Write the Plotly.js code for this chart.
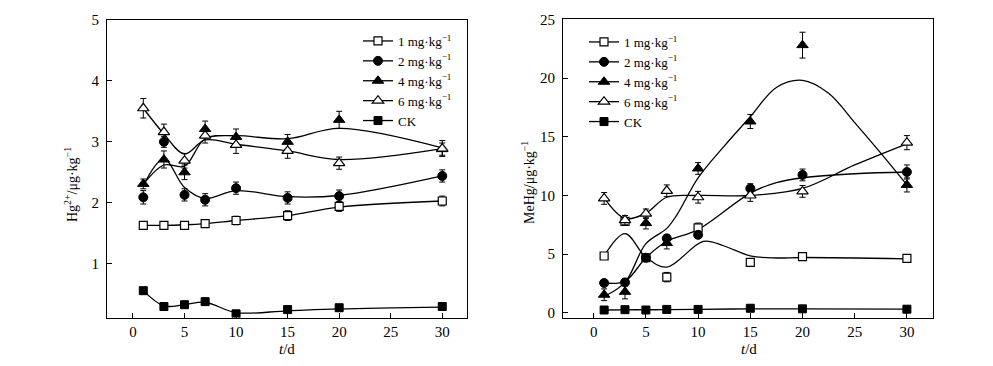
<!DOCTYPE html>
<html>
<head>
<meta charset="utf-8">
<script src="https://cdn.plot.ly/plotly-3.0.1.min.js"></script>
<style>html,body{margin:0;padding:0;background:#fff;}#chart{width:993px;height:366px;}</style>
</head>
<body>
<div id="chart"></div>
<script>
// ---- data ----
const days = [1, 3, 5, 7, 10, 15, 20, 30];
const seriesNames = ['1 mg·kg<sup>−1</sup>', '2 mg·kg<sup>−1</sup>', '4 mg·kg<sup>−1</sup>', '6 mg·kg<sup>−1</sup>', 'CK'];

// Left panel: Hg2+ (μg/kg)
const hg_1  = [1.63, 1.63, 1.63, 1.66, 1.71, 1.79, 1.94, 2.03];
const hg_2  = [2.09, 3.00, 2.13, 2.05, 2.24, 2.08, 2.11, 2.44];
const hg_4  = [2.31, 2.71, 2.50, 3.21, 3.08, 3.00, 3.36, 2.88];
const hg_6  = [3.55, 3.16, 2.69, 3.10, 2.95, 2.85, 2.65, 2.89];
const hg_ck = [0.56, 0.30, 0.33, 0.38, 0.18, 0.25, 0.28, 0.30];
const hg_err_1  = [0.06, 0.05, 0.05, 0.06, 0.07, 0.08, 0.08, 0.08];
const hg_err_2  = [0.11, 0.09, 0.10, 0.10, 0.10, 0.10, 0.10, 0.10];
const hg_err_4  = [0.08, 0.14, 0.12, 0.13, 0.13, 0.12, 0.14, 0.10];
const hg_err_6  = [0.16, 0.13, 0.12, 0.12, 0.14, 0.12, 0.10, 0.13];
const hg_err_ck = [0.02, 0.02, 0.02, 0.02, 0.02, 0.02, 0.02, 0.02];
// fitted smooth curves
const hg_fit_1  = [1.63, 1.63, 1.64, 1.66, 1.71, 1.79, 1.93, 2.03];
const hg_fit_2  = [2.28, 2.72, 2.25, 2.07, 2.20, 2.10, 2.12, 2.44];
const hg_fit_4  = [2.30, 2.62, 2.60, 3.05, 3.10, 3.05, 3.22, 2.90];
const hg_fit_6  = [3.55, 3.13, 2.80, 3.03, 2.96, 2.85, 2.71, 2.89];
const hg_fit_ck = [0.56, 0.31, 0.33, 0.37, 0.20, 0.23, 0.26, 0.29];

// Right panel: MeHg (μg/kg)
const me_1  = [4.85, 7.80, 4.70, 3.05, 7.25, 4.30, 4.80, 4.65];
const me_2  = [2.55, 2.60, 4.70, 6.35, 6.65, 10.60, 11.75, 12.00];
const me_4  = [1.55, 1.80, 7.65, 5.95, 12.30, 16.30, 22.80, 10.90];
const me_6  = [9.75, 7.90, 8.45, 10.40, 9.85, 10.00, 10.35, 14.50];
const me_ck = [0.25, 0.28, 0.25, 0.30, 0.30, 0.40, 0.35, 0.32];
const me_err_1  = [0.2, 0.3, 0.3, 0.4, 0.4, 0.3, 0.2, 0.2];
const me_err_2  = [0.3, 0.3, 0.3, 0.3, 0.3, 0.4, 0.5, 0.6];
const me_err_4  = [0.5, 0.6, 0.5, 0.5, 0.5, 0.6, 1.1, 0.6];
const me_err_6  = [0.5, 0.4, 0.4, 0.5, 0.5, 0.5, 0.5, 0.6];
const me_err_ck = [0.05, 0.05, 0.05, 0.05, 0.05, 0.05, 0.05, 0.05];
// fitted smooth curves
const me_fit_x_1 = [1, 3, 5, 7, 10.5, 12.5, 15, 17.5, 20, 30];
const me_fit_1   = [4.85, 6.75, 4.75, 3.9, 6.1, 5.7, 4.85, 4.68, 4.72, 4.6];
const me_fit_x_2 = [1, 3, 5, 7, 10, 15, 17.5, 20, 25, 30];
const me_fit_2   = [2.55, 2.7, 4.7, 6.1, 7.1, 10.2, 11.1, 11.5, 11.85, 12.0];
const me_fit_x_4 = [1, 3, 5, 7, 8, 10, 12.5, 15, 17.5, 20, 22.5, 25, 27.5, 30];
const me_fit_4   = [1.4, 2.6, 5.9, 7.2, 8.4, 11.5, 14.2, 16.7, 19.2, 19.8, 18.7, 16.2, 13.6, 10.9];
const me_fit_x_6 = [1, 3, 5, 7, 10, 15, 20, 25, 30];
const me_fit_6   = [9.8, 8.05, 8.5, 9.85, 10.0, 10.0, 10.6, 12.6, 14.4];
const me_fit_ck  = [0.25, 0.27, 0.27, 0.28, 0.30, 0.35, 0.35, 0.32];

// ---- styles ----
const FONT = 'Liberation Serif, Times New Roman, serif';
const markerStyles = [
  {symbol: 'square', size: 8, color: '#fff', line: {color: '#000', width: 1.2}},
  {symbol: 'circle', size: 9, color: '#000', line: {color: '#000', width: 1}},
  {symbol: 'triangle-up', size: 10, color: '#000', line: {color: '#000', width: 1}},
  {symbol: 'triangle-up', size: 10, color: '#fff', line: {color: '#000', width: 1.2}},
  {symbol: 'square', size: 8, color: '#000', line: {color: '#000', width: 1}}
];
const lineStyle = {color: '#000', width: 1.3, shape: 'spline', smoothing: 1};

const traces = [];
function addPanel(xa, ya, legendId, fitsX, fits, pts, errs) {
  for (let i = 0; i < 5; i++) {
    traces.push({x: fitsX[i], y: fits[i], xaxis: xa, yaxis: ya, mode: 'lines',
      line: lineStyle, showlegend: false, hoverinfo: 'skip'});
  }
  const order = [4, 0, 1, 2, 3];
  for (const i of order) {
    traces.push({x: days, y: pts[i], xaxis: xa, yaxis: ya, mode: 'markers',
      marker: markerStyles[i], showlegend: false,
      error_y: {type: 'data', array: errs[i], visible: true, color: '#000', thickness: 1, width: 3}});
  }
  for (let i = 0; i < 5; i++) {
    traces.push({x: [null], y: [null], xaxis: xa, yaxis: ya, mode: 'lines+markers',
      name: seriesNames[i], legend: legendId,
      line: {color: '#000', width: 1.3}, marker: markerStyles[i]});
  }
}
addPanel('x', 'y', 'legend', [days, days, days, days, days],
  [hg_fit_1, hg_fit_2, hg_fit_4, hg_fit_6, hg_fit_ck],
  [hg_1, hg_2, hg_4, hg_6, hg_ck],
  [hg_err_1, hg_err_2, hg_err_4, hg_err_6, hg_err_ck]);
addPanel('x2', 'y2', 'legend2', [me_fit_x_1, me_fit_x_2, me_fit_x_4, me_fit_x_6, days],
  [me_fit_1, me_fit_2, me_fit_4, me_fit_6, me_fit_ck],
  [me_1, me_2, me_4, me_6, me_ck],
  [me_err_1, me_err_2, me_err_4, me_err_6, me_err_ck]);

const W = 993, H = 366;
function axisCommon(standoff) {
  return {showgrid: false, zeroline: false, showline: true, mirror: true,
    linecolor: '#000', linewidth: 1, ticks: 'inside', ticklen: 5, tickwidth: 1,
    tickcolor: '#000', tickfont: {family: FONT, size: 15, color: '#000'}, ticklabelstandoff: standoff};
}
const layout = {
  width: W, height: H,
  margin: {l: 0, r: 0, t: 0, b: 0},
  paper_bgcolor: '#fff', plot_bgcolor: '#fff',
  font: {family: FONT, color: '#000'},
  showlegend: true,
  xaxis: Object.assign(axisCommon(0), {domain: [107 / W, 467 / W], range: [-2.52, 32.4], tickvals: [0, 5, 10, 15, 20, 25, 30], anchor: 'y'}),
  yaxis: Object.assign(axisCommon(4), {domain: [1 - 317.5 / H, 1 - 19.8 / H], range: [0.12, 5], tickvals: [1, 2, 3, 4, 5], anchor: 'x'}),
  xaxis2: Object.assign(axisCommon(0), {domain: [563 / W, 933 / W], range: [-2.94, 32.5], tickvals: [0, 5, 10, 15, 20, 25, 30], anchor: 'y2'}),
  yaxis2: Object.assign(axisCommon(4), {domain: [1 - 318 / H, 1 - 19.3 / H], range: [-0.43, 25], tickvals: [0, 5, 10, 15, 20, 25], anchor: 'x2'}),
  legend: {x: 358 / W, y: 1 - 26 / H, xanchor: 'left', yanchor: 'top', bgcolor: 'rgba(0,0,0,0)',
    font: {family: FONT, size: 13, color: '#000'}, tracegroupgap: 0, itemwidth: 30},
  legend2: {x: 584 / W, y: 1 - 27 / H, xanchor: 'left', yanchor: 'top', bgcolor: 'rgba(0,0,0,0)',
    font: {family: FONT, size: 13, color: '#000'}, tracegroupgap: 0, itemwidth: 30},
  annotations: [
    {text: 'Hg<sup>2+</sup>/μg·kg<sup>−1</sup>', xref: 'paper', yref: 'paper', x: 71 / W, y: 1 - 185 / H,
      xanchor: 'center', yanchor: 'middle',
      textangle: -90, showarrow: false, font: {family: FONT, size: 14, color: '#000'}},
    {text: 'MeHg/μg·kg<sup>−1</sup>', xref: 'paper', yref: 'paper', x: 528 / W, y: 1 - 183 / H,
      xanchor: 'center', yanchor: 'middle',
      textangle: -90, showarrow: false, font: {family: FONT, size: 14, color: '#000'}},
    {text: '<i>t</i>/d', xref: 'paper', yref: 'paper', x: 287 / W, y: 1 - 349 / H,
      xanchor: 'center', yanchor: 'middle',
      showarrow: false, font: {family: FONT, size: 15, color: '#000'}},
    {text: '<i>t</i>/d', xref: 'paper', yref: 'paper', x: 749 / W, y: 1 - 349 / H,
      xanchor: 'center', yanchor: 'middle',
      showarrow: false, font: {family: FONT, size: 15, color: '#000'}}
  ]
};
Plotly.newPlot('chart', traces, layout, {displayModeBar: false, staticPlot: true});
</script>
</body>
</html>
